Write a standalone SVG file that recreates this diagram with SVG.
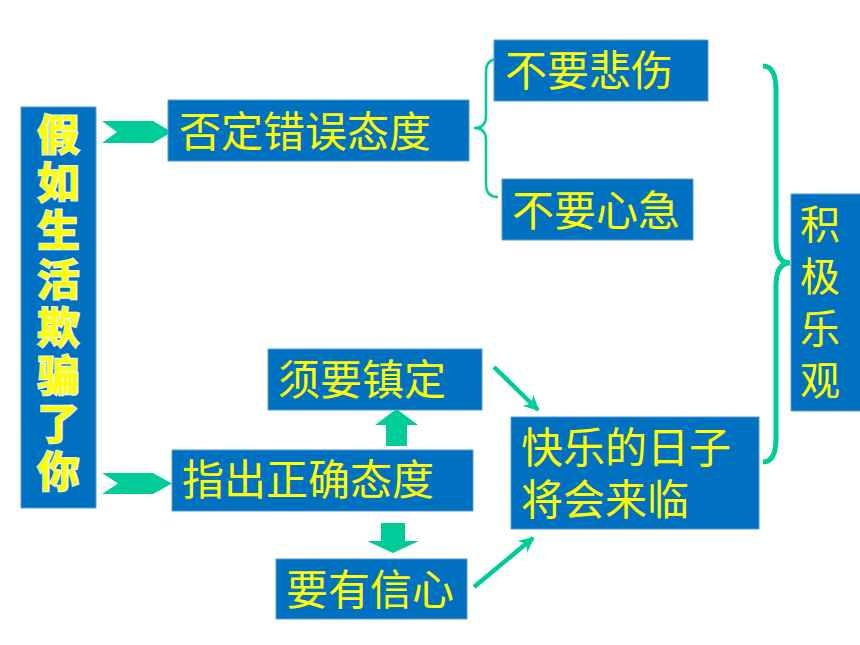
<svg xmlns="http://www.w3.org/2000/svg" width="860" height="645" viewBox="0 0 860 645">
<style>
.box{fill:#0070C0;stroke:#5B9BD5;stroke-width:1}
.t{font-family:"Noto Sans CJK SC","Noto Sans CJK JP",sans-serif;font-size:42px;fill:#FFFF00}
.tb{font-family:"Noto Sans CJK SC","Noto Sans CJK JP",sans-serif;font-size:42px;font-weight:bold;fill:#FFFF00;stroke:#E8F8E0;stroke-width:2.5;paint-order:stroke;writing-mode:vertical-rl;text-orientation:upright;letter-spacing:6.2px}
.tv{font-family:"Noto Sans CJK SC","Noto Sans CJK JP",sans-serif;font-size:40px;fill:#FFFF00;writing-mode:vertical-rl;text-orientation:upright;letter-spacing:12px}
.fill{fill:#00CC99}
.ln{fill:none;stroke:#00CC99}
</style>
<defs>
<marker id="ah" viewBox="0 0 10 10" refX="9" refY="5" markerWidth="3.4" markerHeight="3.4" orient="auto" markerUnits="strokeWidth">
<path d="M0,0 L10,5 L0,10 L3,5 Z" fill="#00CC99"/>
</marker>
</defs>

<g id="connectors">
<polygon class="fill" points="102,121 153,121 172,132 153,143 102,143 117,132"/>
<polygon class="fill" points="102,473 153,473 172,483.5 153,494 102,494 118,483.5"/>
<polygon class="fill" points="386,446 407,446 407,425 418,425 396.5,409 375,425 386,425"/>
<polygon class="fill" points="381,523 405,523 405,541 419,541 393,553 367,541 381,541"/>
<path class="ln" stroke-width="2.5" d="M498,59 Q486,59 486,72 L486,116 Q486,128 474,128 Q486,128 486,140 L486,184 Q486,197 498,197"/>
<path class="ln" stroke-width="5" d="M763,66 Q776,66 776,90 L776,240 Q776,263 790,263 Q776,263 776,286 L776,438 Q776,462 763,462"/>
<line class="ln" stroke-width="4.5" x1="494" y1="367" x2="538" y2="410" marker-end="url(#ah)"/>
<line class="ln" stroke-width="4.5" x1="474" y1="587" x2="533" y2="538" marker-end="url(#ah)"/>
</g>

<g id="n-main">
<rect class="box" x="21" y="107" width="75" height="401"/>
<text class="tb" x="58.5" y="113">假如生活欺骗了你</text>
</g>

<g id="n-fouding">
<rect class="box" x="168" y="100" width="301" height="61"/>
<text class="t" x="179" y="147">否定错误态度</text>
</g>

<g id="n-zhichu">
<rect class="box" x="172" y="450" width="301" height="61"/>
<text class="t" x="182" y="495">指出正确态度</text>
</g>

<g id="n-bubei">
<rect class="box" x="494" y="40" width="214" height="61"/>
<text class="t" x="505" y="86">不要悲伤</text>
</g>

<g id="n-buji">
<rect class="box" x="502" y="179" width="191" height="61"/>
<text class="t" x="512" y="226">不要心急</text>
</g>

<g id="n-zhending">
<rect class="box" x="268" y="349" width="214" height="61"/>
<text class="t" x="278" y="395">须要镇定</text>
</g>

<g id="n-xinxin">
<rect class="box" x="276" y="559" width="191" height="60"/>
<text class="t" x="286" y="605">要有信心</text>
</g>

<g id="n-kuaile">
<rect class="box" x="511" y="417" width="248" height="112"/>
<text class="t" x="521" y="463"><tspan x="521" y="463">快乐的日子</tspan><tspan x="521" y="515">将会来临</tspan></text>
</g>

<g id="n-jiji">
<rect class="box" x="791" y="194" width="70" height="217"/>
<text class="tv" x="820" y="204">积极乐观</text>
</g>
</svg>
